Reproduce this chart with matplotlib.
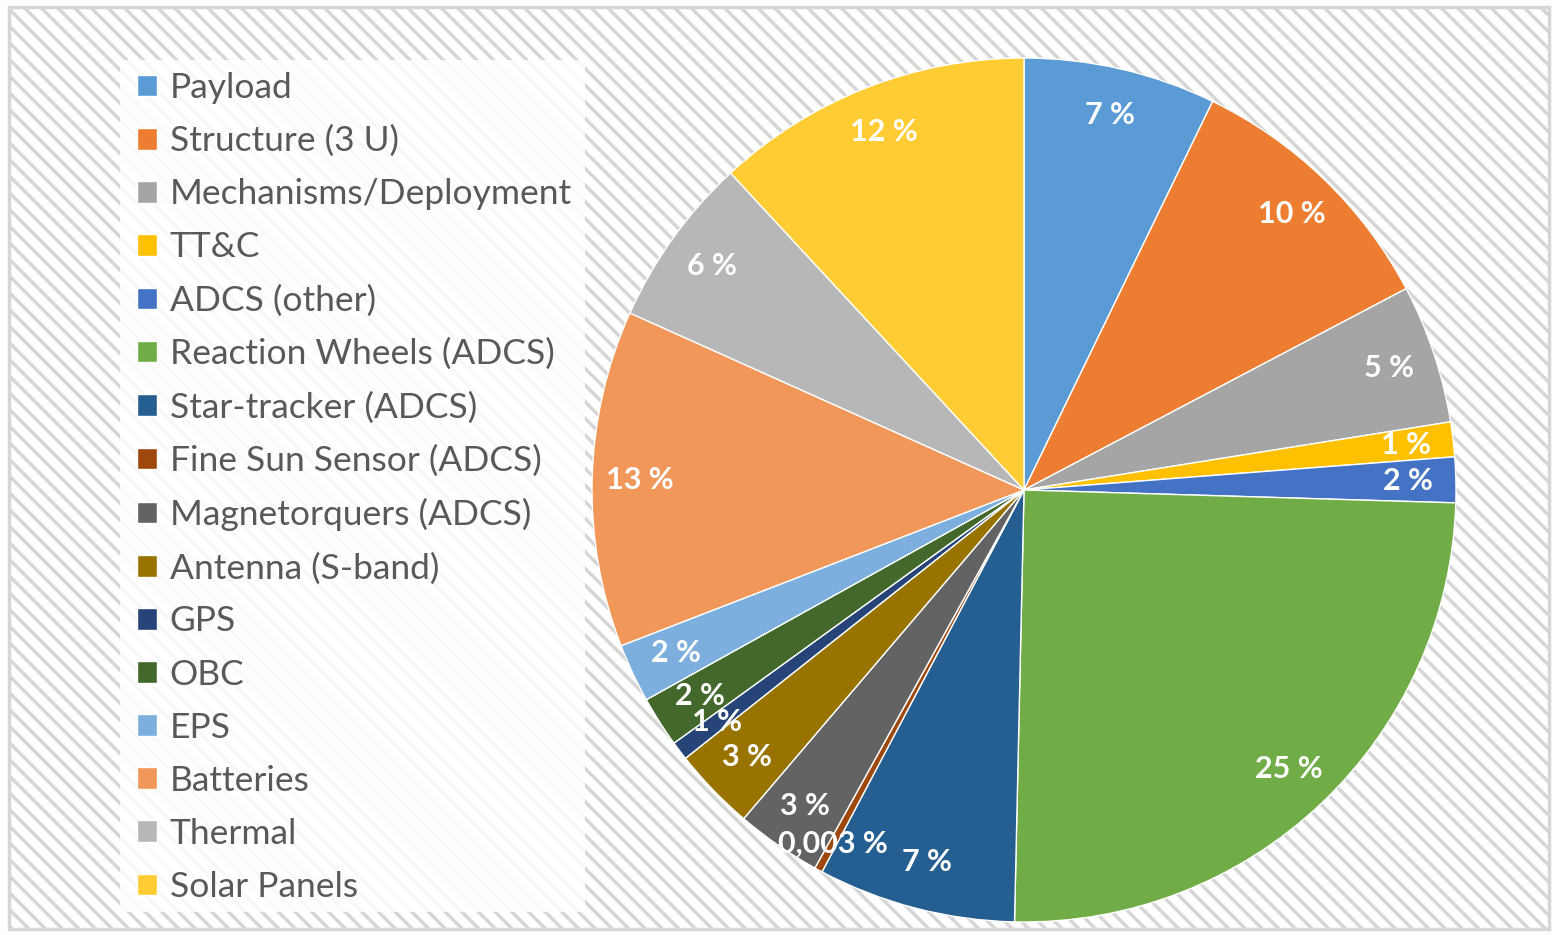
import matplotlib.pyplot as plt
import matplotlib.patches as patches
import numpy as np

postes = ["Payload", "Structure (3 U)", "Mechanisms/Deployment", "TT&C", "ADCS (other)",
          "Reaction Wheels (ADCS)", "Star-tracker (ADCS)", "Fine Sun Sensor (ADCS)",
          "Magnetorquers (ADCS)", "Antenna (S-band)", "GPS", "OBC", "EPS", "Batteries",
          "Thermal", "Solar Panels"]
valeurs = [7.2, 10.1, 5.2, 1.3, 1.7, 24.9, 7.4, 0.3, 3.2, 3.1, 0.7, 1.9, 2.2, 12.6, 6.4, 11.9]
etiquettes = ["7 %", "10 %", "5 %", "1 %", "2 %", "25 %", "7 %", "0,003 %", "3 %", "3 %",
              "1 %", "2 %", "2 %", "13 %", "6 %", "12 %"]
couleurs = ["#5B9BD5", "#ED7D31", "#A5A5A5", "#FFC000", "#4472C4", "#70AD47", "#255E91",
            "#9E480E", "#636363", "#997300", "#264478", "#43682B", "#7CAFDD", "#F1975A",
            "#B7B7B7", "#FFCD33"]

W, H = 1554, 935
plt.rcParams['hatch.linewidth'] = 2.5
plt.rcParams['hatch.color'] = '#F4F4F4'
plt.rcParams['font.family'] = ['Lato', 'DejaVu Sans']

fig = plt.figure(figsize=(W / 100, H / 100), dpi=100)
fig.patch.set_facecolor('white')

# fond hachuré avec cadre gris
fond = patches.Rectangle((9 / W, 6 / H), 1540 / W, 922 / H, transform=fig.transFigure,
                         facecolor='white', edgecolor='#D6D6D6', linewidth=2.5,
                         hatch='\\\\', zorder=-5)
fig.patches.append(fond)
# fond blanc sous la légende
boite = patches.Rectangle((120 / W, (H - 912) / H), 465 / W, 852 / H, transform=fig.transFigure,
                          facecolor='white', edgecolor='none', alpha=0.85, zorder=-4)
fig.patches.append(boite)

# axes du camembert : centre (1024, 490), rayon 432 px
cx, cy, r = 1024, 490, 432
m = 1.02
ax = fig.add_axes([(cx - r * m) / W, (H - cy - r * m) / H, 2 * r * m / W, 2 * r * m / H])
ax.set_zorder(2)
wedges, _ = ax.pie(valeurs, colors=couleurs, startangle=90, counterclock=False,
                   radius=1, wedgeprops=dict(edgecolor='white', linewidth=1))
ax.set_xlim(-m, m)
ax.set_ylim(-m, m)
ax.set_aspect('equal')
ax.axis('off')

# étiquettes blanches à l'intérieur
for i, (w, txt) in enumerate(zip(wedges, etiquettes)):
    ang = np.deg2rad((w.theta1 + w.theta2) / 2)
    d = 0.93 if i == 7 else 0.89   # la petite tranche un peu plus loin, comme dans l'original
    ax.text(d * np.cos(ang), d * np.sin(ang), txt, ha='center', va='center',
            color='white', fontsize=22, fontweight='bold')

fig.legend(wedges, postes, loc='upper left', bbox_to_anchor=(137 / W, 1 - 72 / H),
           frameon=False, fontsize=25.5, labelcolor='#595959', handlelength=0.56,
           handleheight=0.56, handletextpad=0.36, labelspacing=0.595, borderpad=0,
           borderaxespad=0)

fig.savefig('out.png', dpi=100)
